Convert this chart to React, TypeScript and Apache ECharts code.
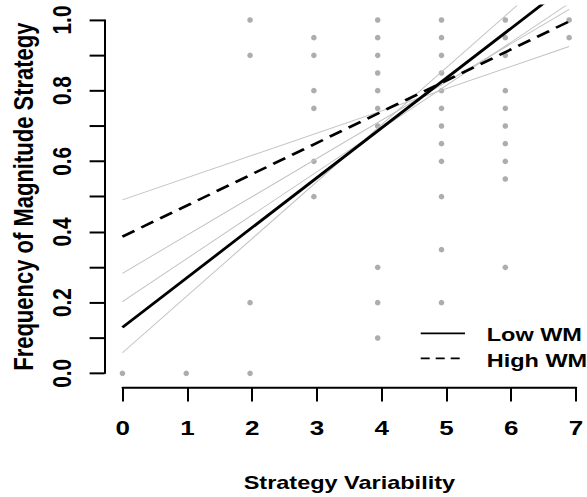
import React, { useEffect, useRef } from "react";
import * as echarts from "echarts";

// Canvas is drawn at 587 x 621 and squished vertically to 497 (as in the reference)
const W = 587;
const H = 621;
const SQUISH = 497 / 621;

const FONT = '"Liberation Sans", Arial, Helvetica, sans-serif';

// Observed data points: x value (strategy variability) and the y values at it
const pointX = [0, 1, 2, 3, 4, 5, 6, 7];
const pointY = [
  [0],
  [0],
  [1.0, 0.9, 0.2, 0.0],
  [0.95, 0.9, 0.8, 0.75, 0.6, 0.5],
  [1.0, 0.95, 0.9, 0.85, 0.8, 0.75, 0.7, 0.3, 0.2, 0.1],
  [1.0, 0.95, 0.9, 0.85, 0.8, 0.75, 0.7, 0.65, 0.6, 0.5, 0.35, 0.2],
  [1.0, 0.95, 0.9, 0.8, 0.75, 0.7, 0.65, 0.6, 0.55, 0.3],
  [1.0, 0.95],
];

// Fitted lines: values at x = 0 and x = 7
const lineX = [0, 7];
const lowWM = [0.13, 1.103];
const highWM = [0.387, 0.996];
const lowWMBandA = [0.203, 1.047];
const lowWMBandB = [0.058, 1.171];
const highWMBandA = [0.491, 0.925];
const highWMBandB = [0.283, 1.03];

const legendNames = ["Low WM", "High WM"];

function toPairs(ys: number[]) {
  return lineX.map((x, i) => [x, ys[i]]);
}

export default function App() {
  const ref = useRef<HTMLDivElement>(null);

  useEffect(() => {
    if (!ref.current) return;
    const chart = echarts.init(ref.current, null, { renderer: "svg", width: W, height: H });

    const scatterData: number[][] = [];
    pointX.forEach((x, i) => pointY[i].forEach((y) => scatterData.push([x, y])));

    const grayLine = (ys: number[]) => ({
      type: "line",
      xAxisIndex: 0,
      yAxisIndex: 0,
      data: toPairs(ys),
      symbol: "none",
      clip: true,
      lineStyle: { color: "#c2c2c2", width: 1.1 },
      silent: true,
    });

    const option: any = {
      animation: false,
      textStyle: { fontFamily: FONT },
      grid: [
        { left: 104.57, top: 7.33, width: 489.6, height: 476.78 },
        { left: 122.7, top: 24.99, width: 453.3, height: 441.46 },
      ],
      xAxis: [
        { gridIndex: 0, type: "value", min: -0.28, max: 7.28, show: false },
        {
          gridIndex: 1,
          type: "value",
          min: 0,
          max: 7,
          interval: 1,
          position: "bottom",
          offset: 17.66,
          axisLine: { show: true, onZero: false, lineStyle: { color: "#000", width: 2.5 } },
          axisTick: { show: true, length: 17.5, lineStyle: { color: "#000", width: 2 } },
          axisLabel: { margin: 38, fontSize: 26, fontWeight: "bold", color: "#000", fontFamily: FONT },
          splitLine: { show: false },
          name: "Strategy Variability",
          nameLocation: "middle",
          nameGap: 107,
          nameTextStyle: { fontSize: 23.5, fontWeight: "bold", color: "#000", fontFamily: FONT },
        },
      ],
      yAxis: [
        { gridIndex: 0, type: "value", min: -0.04, max: 1.04, show: false },
        {
          gridIndex: 1,
          type: "value",
          min: 0,
          max: 1,
          interval: 0.1,
          position: "left",
          offset: 18.1,
          axisLine: { show: true, onZero: false, lineStyle: { color: "#000", width: 2 } },
          axisTick: { show: true, length: 15, lineStyle: { color: "#000", width: 2.5 } },
          axisLabel: {
            rotate: 90,
            margin: 29,
            fontSize: 26,
            fontWeight: "bold",
            color: "#000",
            fontFamily: FONT,
            formatter: (v: number) => (Math.round(v * 10) % 2 === 0 ? v.toFixed(1) : ""),
          },
          splitLine: { show: false },
          name: "Frequency of Magnitude Strategy",
          nameLocation: "middle",
          nameGap: 68,
          nameTextStyle: { fontSize: 27.5, fontWeight: "bold", color: "#000", fontFamily: FONT },
        },
      ],
      series: [
        {
          type: "scatter",
          xAxisIndex: 0,
          yAxisIndex: 0,
          data: scatterData,
          symbol: "circle",
          symbolSize: [5.6, 7],
          itemStyle: { color: "#999999" },
          silent: true,
        },
        grayLine(highWMBandA),
        grayLine(highWMBandB),
        grayLine(lowWMBandA),
        grayLine(lowWMBandB),
        {
          type: "line",
          name: legendNames[1],
          xAxisIndex: 0,
          yAxisIndex: 0,
          data: toPairs(highWM),
          symbol: "none",
          clip: true,
          lineStyle: { color: "#000", width: 3.2, type: [14, 8] },
        },
        {
          type: "line",
          name: legendNames[0],
          xAxisIndex: 0,
          yAxisIndex: 0,
          data: toPairs(lowWM),
          symbol: "none",
          clip: true,
          lineStyle: { color: "#000", width: 3.2 },
        },
      ],
      graphic: [
        {
          type: "line",
          shape: { x1: 420.7, y1: 416.5, x2: 465, y2: 416.5 },
          style: { stroke: "#000", lineWidth: 2.2 },
        },
        {
          type: "line",
          shape: { x1: 420.7, y1: 447.7, x2: 465, y2: 447.7 },
          style: { stroke: "#000", lineWidth: 2.2, lineDash: [9, 6] },
        },
        {
          type: "text",
          x: 486.7,
          y: 418.6,
          style: {
            text: legendNames[0],
            fontFamily: FONT,
            fontSize: 23.5,
            fontWeight: "bold",
            fill: "#000",
            align: "left",
            verticalAlign: "middle",
          },
        },
        {
          type: "text",
          x: 486.7,
          y: 450.8,
          style: {
            text: legendNames[1],
            fontFamily: FONT,
            fontSize: 23.5,
            fontWeight: "bold",
            fill: "#000",
            align: "left",
            verticalAlign: "middle",
          },
        },
      ],
    };

    chart.setOption(option);
    return () => chart.dispose();
  }, []);

  return (
    <div
      style={{
        position: "absolute",
        left: 0,
        top: 0,
        width: W,
        height: 497,
        overflow: "hidden",
        background: "#fff",
      }}
    >
      <div
        ref={ref}
        style={{
          width: W,
          height: H,
          transform: `scaleY(${SQUISH})`,
          transformOrigin: "0 0",
        }}
      />
    </div>
  );
}
